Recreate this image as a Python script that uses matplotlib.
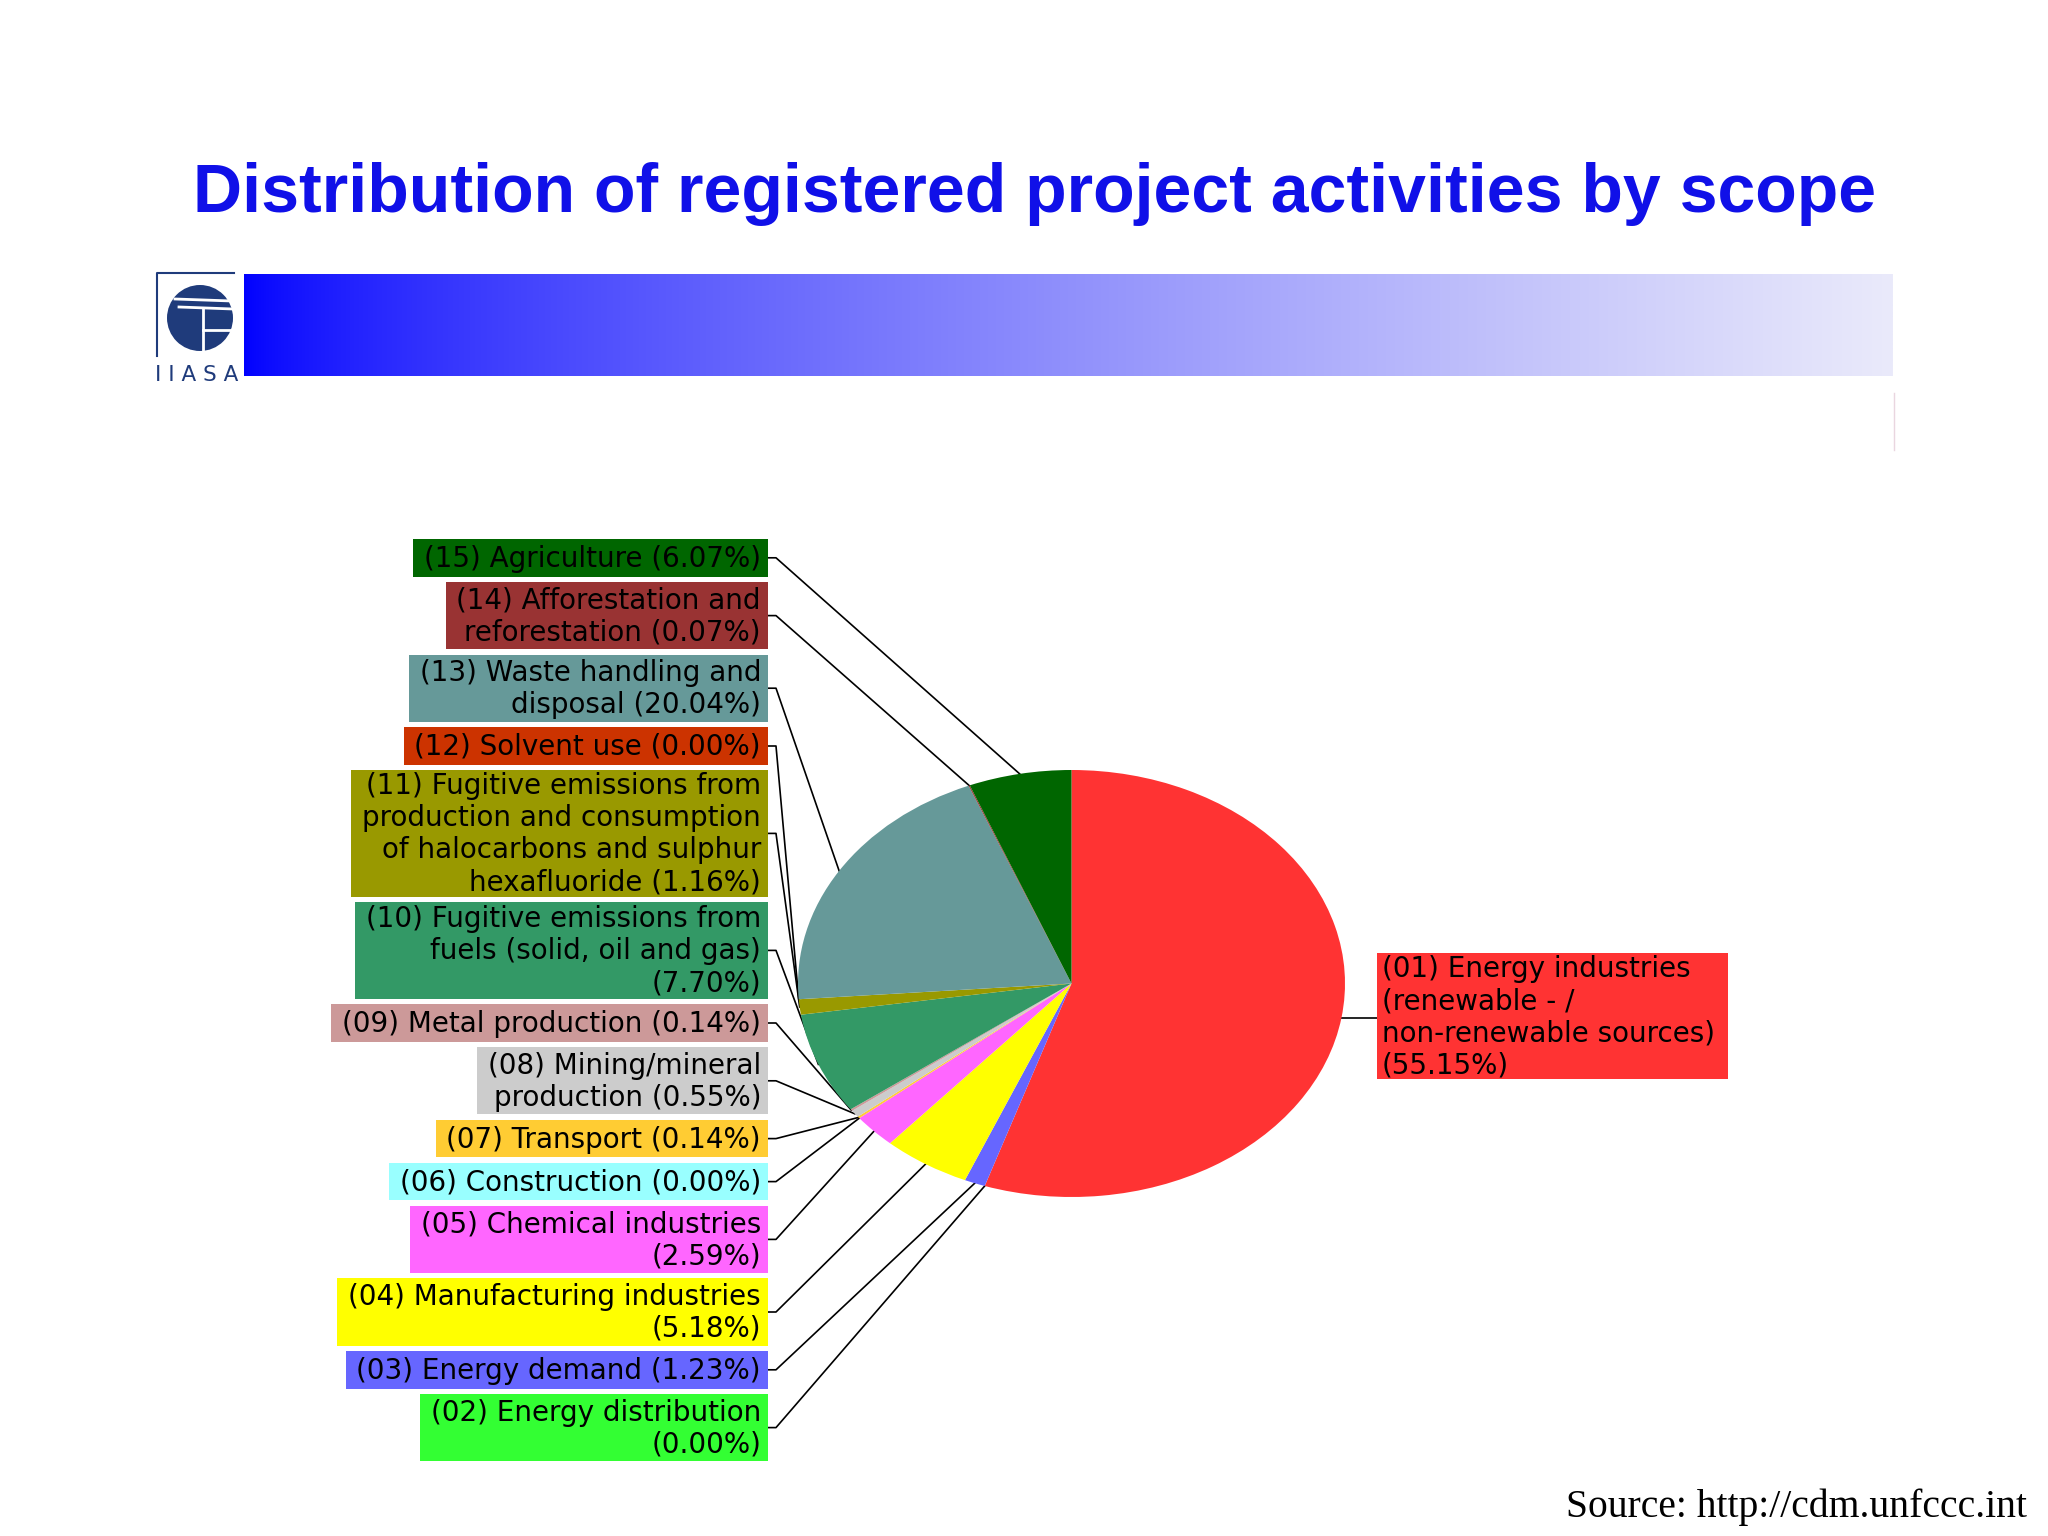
import matplotlib.pyplot as plt
import numpy as np
from matplotlib.patches import Rectangle, Circle

# scopes, in pie order (clockwise from 12 o'clock); {} takes the percentage
scope_names = [
    '(01) Energy industries\n(renewable - /\nnon-renewable sources)\n{}',
    '(02) Energy distribution\n{}',
    '(03) Energy demand {}',
    '(04) Manufacturing industries\n{}',
    '(05) Chemical industries\n{}',
    '(06) Construction {}',
    '(07) Transport {}',
    '(08) Mining/mineral\nproduction {}',
    '(09) Metal production {}',
    '(10) Fugitive emissions from\nfuels (solid, oil and gas)\n{}',
    '(11) Fugitive emissions from\nproduction and consumption\nof halocarbons and sulphur\nhexafluoride {}',
    '(12) Solvent use {}',
    '(13) Waste handling and\ndisposal {}',
    '(14) Afforestation and\nreforestation {}',
    '(15) Agriculture {}',
]
shares = [55.15, 0.00, 1.23, 5.18, 2.59, 0.00, 0.14, 0.55, 0.14,
          7.70, 1.16, 0.00, 20.04, 0.07, 6.07]
colors = ['#ff3333', '#33ff33', '#6666ff', '#ffff00', '#ff66ff', '#99ffff',
          '#ffcc33', '#cccccc', '#cc9999', '#339966', '#999900', '#cc3300',
          '#669999', '#993333', '#006600']

title = 'Distribution of registered project activities by scope'
source = 'Source: http://cdm.unfccc.int'

W, H = 2048, 1536
fig = plt.figure(figsize=(20.48, 15.36), dpi=100)
ax = fig.add_axes([0, 0, 1, 1])

# gradient banner
t = np.linspace(0, 1, 600) ** 0.7
c0 = np.array([0, 0, 255]) / 255
c1 = np.array([234, 234, 250]) / 255
img = c0 + (c1 - c0) * t[:, None]
ax.imshow(img[None, :, :], extent=(244, 1893, 376, 274), aspect='auto',
          interpolation='bilinear')
ax.plot([1894, 1894], [393, 450], color='#ead6e0', lw=1)

ax.set_xlim(0, W)
ax.set_ylim(H, 0)
ax.axis('off')

# IIASA logo (rough)
navy = '#1f3b7b'
ax.plot([157, 157, 234], [356, 273, 273], color=navy, lw=1.5)
ax.add_patch(Circle((200, 318), 33, fc=navy, ec='none'))
ax.plot([175, 232], [299, 301], color='white', lw=2)
ax.plot([179, 233], [307, 309], color='white', lw=2)
ax.plot([203, 203], [309, 351], color='white', lw=2)
ax.plot([203, 233], [330, 330], color='white', lw=2)
ax.text(197, 375, 'I I A S A', ha='center', va='center', fontsize=15.5,
        color=navy, family='DejaVu Sans')

ax.text(1035, 212, title, ha='center', va='baseline', fontsize=49,
        fontweight='bold', color='#1010e8', family='Liberation Sans')
ax.text(2027, 1517, source, ha='right', va='baseline', fontsize=28.5,
        color='black', family='Liberation Serif')

# pie (stretched into an ellipse like the source image)
cx, cy, rx, ry = 1071.5, 983.5, 273.5, 213.5
pax = fig.add_axes([(cx - rx) / W, 1 - (cy + ry) / H, 2 * rx / W, 2 * ry / H])
wedges, _ = pax.pie(shares, colors=colors, startangle=90, counterclock=False,
                    radius=1, wedgeprops=dict(linewidth=0))
pax.set_xlim(-1, 1)
pax.set_ylim(-1, 1)
pax.set_aspect('auto')
pax.axis('off')


def wedge_pt(w):
    a = np.deg2rad((w.theta1 + w.theta2) / 2)
    disp = pax.transData.transform((np.cos(a) * w.r, np.sin(a) * w.r))
    return ax.transData.inverted().transform(disp)


renderer = fig.canvas.get_renderer()
font = dict(family='DejaVu Sans', fontsize=20, linespacing=1.18)
line_h, pad, gap = 29.6, 8, 5.4

# left-hand labels, 15 at the top down to 02
box_right = 768
y = 539
for i in range(len(shares) - 1, 0, -1):
    text = scope_names[i].format(f'({shares[i]:.2f}%)')
    n = text.count('\n') + 1
    h = pad + line_h * n
    mid = y + h / 2
    tx = ax.text(box_right - 7, mid + 1, text, ha='right', va='center',
                 multialignment='right', zorder=3, **font)
    wd = tx.get_window_extent(renderer).width
    ax.add_patch(Rectangle((box_right - wd - 18, y), wd + 18, h,
                           fc=colors[i], ec='none', zorder=2))
    px, py = wedge_pt(wedges[i])
    ax.plot([box_right, box_right + 8, px], [mid, mid, py], color='black',
            lw=1.2, zorder=1)
    y += h + gap

# right-hand label for scope 01
text = scope_names[0].format(f'({shares[0]:.2f}%)')
n = text.count('\n') + 1
h = pad + line_h * n
bx, by = 1377, 953
tx = ax.text(bx + 5, by + h / 2 + 1, text, ha='left', va='center',
             multialignment='left', zorder=3, **font)
wd = tx.get_window_extent(renderer).width
ax.add_patch(Rectangle((bx, by), wd + 18, h, fc=colors[0], ec='none', zorder=2))
px, py = wedge_pt(wedges[0])
ax.plot([px, bx], [py, py], color='black', lw=1.2, zorder=1)

fig.savefig('out.png', dpi=100, facecolor='white')
